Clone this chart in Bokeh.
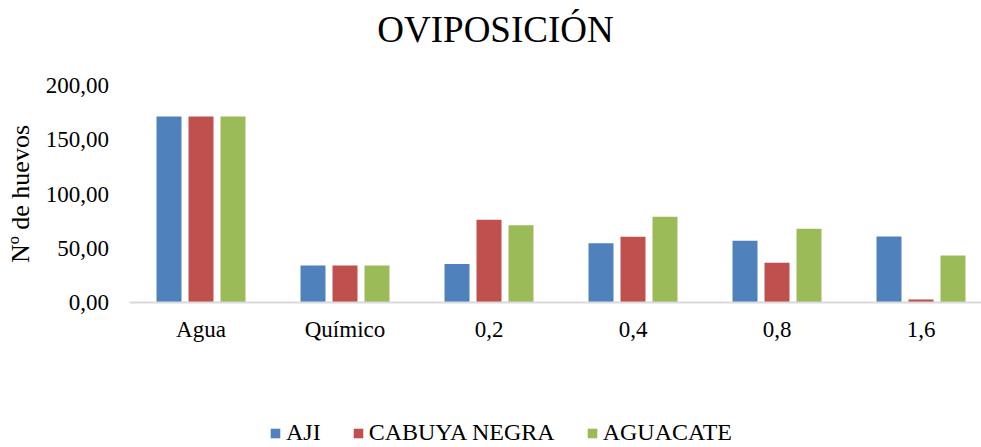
from bokeh.plotting import figure
from bokeh.models import ColumnDataSource, FixedTicker, Range1d, Legend, LegendItem, Label
from bokeh.transform import dodge
from bokeh.embed import file_html
from bokeh.resources import INLINE

title_text = "OVIPOSICIÓN"
y_axis_title = "Nº de huevos"
categories = ["Agua", "Químico", "0,2", "0,4", "0,8", "1,6"]
series_names = ["AJI", "CABUYA NEGRA", "AGUACATE"]
aji = [171.4, 34.2, 35.4, 54.7, 56.9, 60.8]
cabuya_negra = [171.4, 34.2, 76.2, 60.5, 36.6, 2.8]
aguacate = [171.4, 34.2, 71.3, 79.0, 67.9, 43.3]
y_ticks = [0, 50, 100, 150, 200]
y_tick_labels = ["0,00", "50,00", "100,00", "150,00", "200,00"]

colors = ["#4F81BD", "#C0504D", "#9BBB59"]
FONT = "Liberation Serif"

xs = list(range(len(categories)))
src = ColumnDataSource(dict(x=xs, aji=aji, cab=cabuya_negra, agu=aguacate))

# layout geometry (canvas pixels)
W, H = 981, 447
px_per_cat = 144.0          # horizontal pixels per category
first_center = 200.5        # pixel x of first category centre
y0_px, y200_px = 302.0, 85.0  # pixel rows of value 0 and 200
ppu = (y0_px - y200_px) / 200.0

x_start = -first_center / px_per_cat
x_end = (W - first_center) / px_per_cat
y_start = -(H - y0_px) / ppu
y_end = 200 + y200_px / ppu

p = figure(width=W, height=H, output_backend="svg", toolbar_location=None,
           x_range=Range1d(x_start, x_end), y_range=Range1d(y_start, y_end),
           min_border_left=0, min_border_right=0, min_border_top=0, min_border_bottom=0)
p.outline_line_color = None
p.background_fill_color = "white"
p.border_fill_color = "white"
p.xgrid.grid_line_color = None
p.ygrid.grid_line_color = None

bw = 25 / px_per_cat
step = 32 / px_per_cat
cols = ["aji", "cab", "agu"]
renderers = []
for i, (c, col) in enumerate(zip(cols, colors)):
    r = p.vbar(x=dodge("x", (i - 1) * step, range=p.x_range), top=c, width=bw,
               source=src, fill_color=col, line_color=None)
    renderers.append(r)

# x axis, pinned at value 0
xa = p.xaxis[0]
xa.fixed_location = 0
xa.bounds = (-0.5, x_end)
xa.ticker = FixedTicker(ticks=xs)
xa.major_label_overrides = {i: lab for i, lab in zip(xs, categories)}
xa.axis_line_color = "#D9D9D9"
xa.axis_line_width = 2
xa.major_tick_line_color = None
xa.minor_tick_line_color = None
xa.major_tick_out = 0
xa.major_label_text_font = FONT
xa.major_label_text_font_size = "23px"
xa.major_label_text_color = "black"
xa.major_label_standoff = 14

# y axis, pinned at left edge of the plot area
ya = p.yaxis[0]
ya.fixed_location = -0.5
ya.bounds = (0, 200)
ya.ticker = FixedTicker(ticks=y_ticks)
ya.major_label_overrides = {t: lab for t, lab in zip(y_ticks, y_tick_labels)}
ya.axis_line_color = None
ya.major_tick_line_color = None
ya.minor_tick_line_color = None
ya.major_tick_out = 0
ya.major_label_standoff = 20
ya.major_label_text_font = FONT
ya.major_label_text_font_size = "23px"
ya.major_label_text_color = "black"
ya.axis_label = y_axis_title
ya.axis_label_text_font = FONT
ya.axis_label_text_font_size = "26px"
ya.axis_label_text_font_style = "normal"
ya.axis_label_text_color = "black"
ya.axis_label_standoff = 8

p.add_layout(Label(x=495, y=418, x_units="screen", y_units="screen", text=title_text,
                   text_font=FONT, text_font_size="37px", text_color="black",
                   text_align="center", text_baseline="alphabetic"))

legend = Legend(items=[LegendItem(label=n, renderers=[r]) for n, r in zip(series_names, renderers)],
                orientation="horizontal", location=(269, 1),
                label_text_font=FONT, label_text_font_size="24px", label_text_color="black",
                glyph_width=12, glyph_height=12, label_standoff=5, spacing=31,
                padding=0, margin=0, border_line_color=None, background_fill_alpha=0)
p.add_layout(legend)

open("out.html", "w").write(file_html(p, INLINE))
